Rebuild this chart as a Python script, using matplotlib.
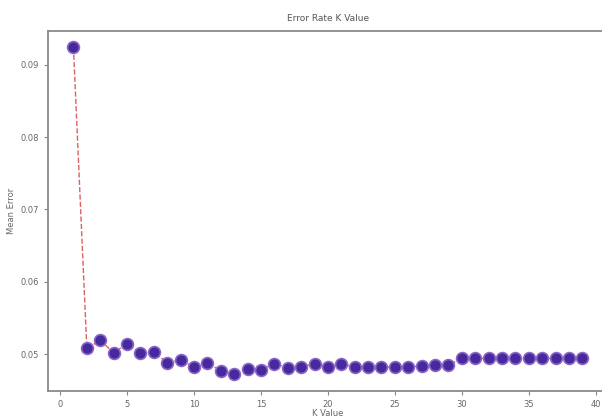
import matplotlib
matplotlib.use('Agg')
import matplotlib.pyplot as plt

# K values tried and the mean error for each
k_values = list(range(1, 40))
error = [0.0924, 0.0508, 0.0519, 0.0502, 0.0514, 0.0502, 0.0503, 0.0488, 0.0492, 0.0482,
         0.0488, 0.0477, 0.0472, 0.0479, 0.0478, 0.0487, 0.0481, 0.0482, 0.0487, 0.0482,
         0.0487, 0.0482, 0.0482, 0.0482, 0.0482, 0.0482, 0.0484, 0.0485, 0.0485, 0.0494,
         0.0494, 0.0494, 0.0494, 0.0494, 0.0494, 0.0494, 0.0494, 0.0494, 0.0494]
x_ticks = [0, 5, 10, 15, 20, 25, 30, 35, 40]
y_ticks = [0.05, 0.06, 0.07, 0.08, 0.09]

txt = '#666666'
fig = plt.figure(figsize=(6.02, 4.18), dpi=100)
ax = fig.add_axes([0.0797, 0.0653, 0.930, 0.8605])

ax.plot(k_values, error, color='#e06060', linestyle='dashed', linewidth=1.0,
        marker='o', markerfacecolor='#46299e', markeredgecolor='#8c66c4',
        markeredgewidth=1.2, markersize=8.5)

ax.set_xticks(x_ticks)
ax.set_yticks(y_ticks)
ax.set_yticklabels(['0.05', '0.06', '0.07', '0.08', '0.09'])
ax.tick_params(labelsize=6, colors='#888888', labelcolor=txt, length=3, width=0.8)
for s in ax.spines.values():
    s.set_color('#8a8a8a')
    s.set_linewidth(1.3)

ax.set_title('Error Rate K Value', fontsize=6.5, color='#555555', pad=7)
ax.set_xlabel('K Value', fontsize=6, color=txt, labelpad=0.5)
ax.set_ylabel('Mean Error', fontsize=6, color=txt, labelpad=3)

fig.savefig('out.png', dpi=100)
